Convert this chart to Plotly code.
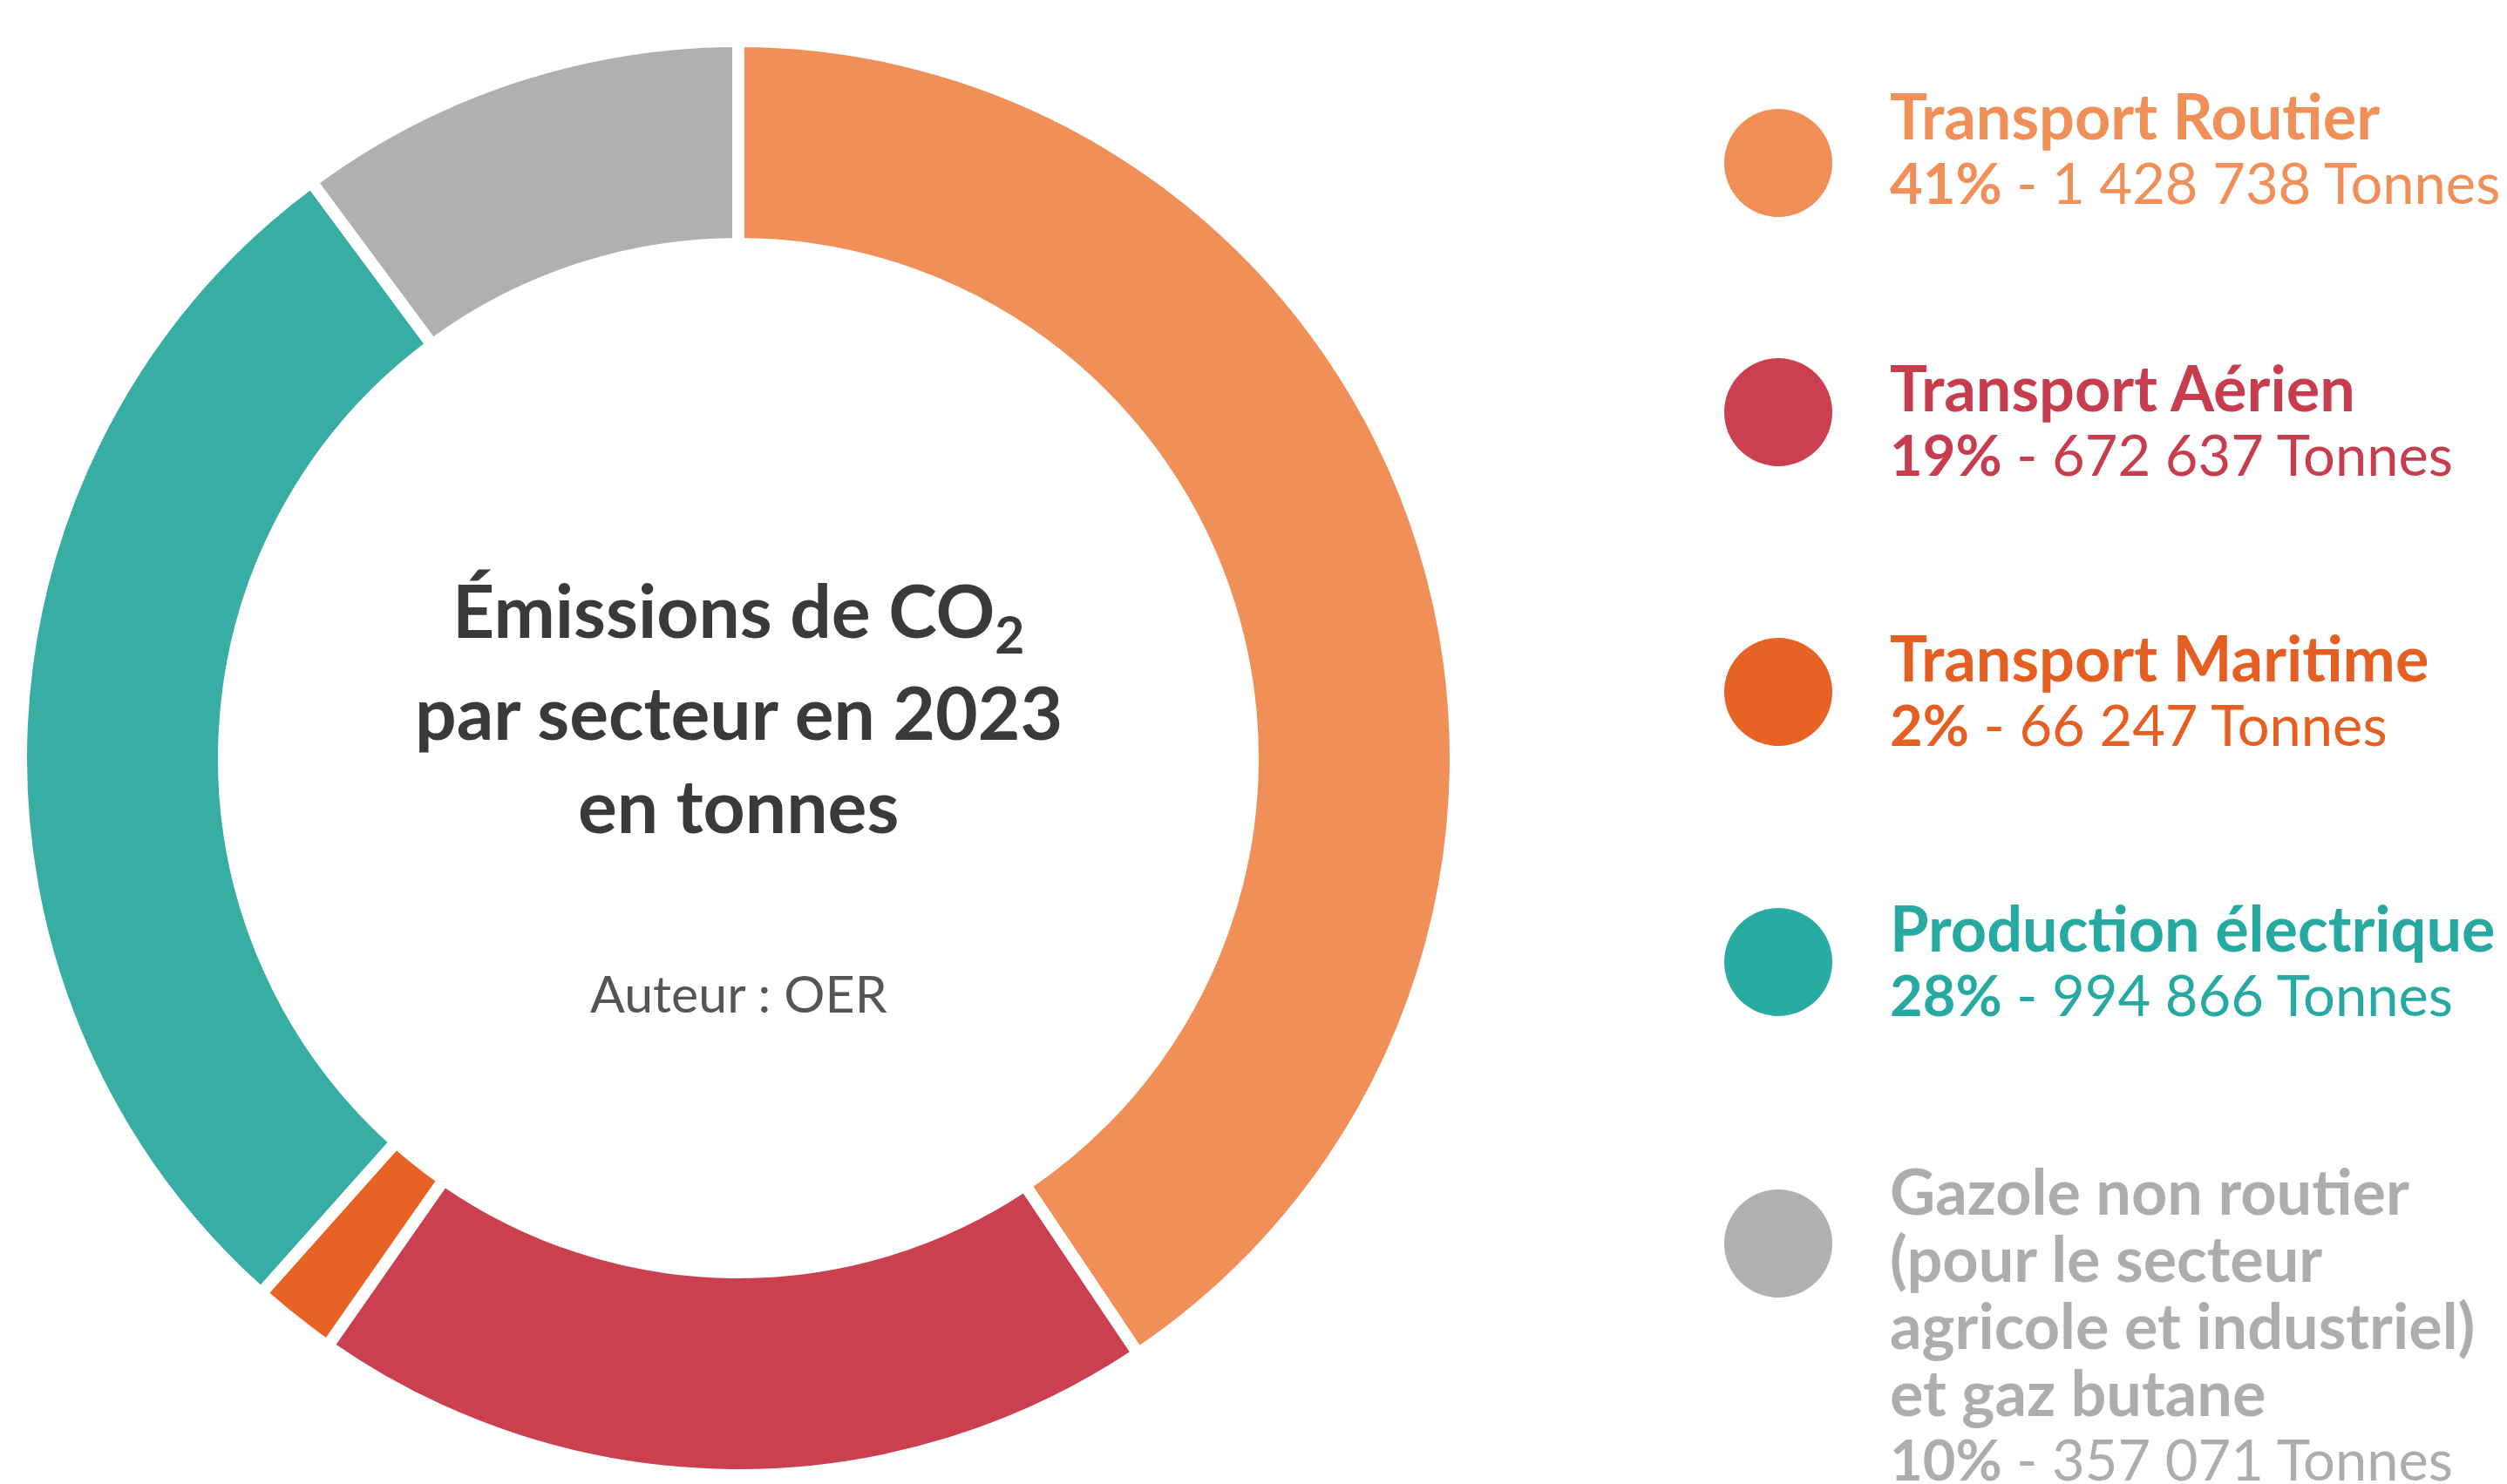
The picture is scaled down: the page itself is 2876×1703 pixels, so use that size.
import plotly.graph_objects as go

# ---- data ----
sectors = ["Transport Routier", "Transport Aérien", "Transport Maritime",
           "Production électrique",
           "Gazole non routier (pour le secteur agricole et industriel) et gaz butane"]
legend_lines = [["Transport Routier"], ["Transport Aérien"], ["Transport Maritime"],
                ["Production électrique"],
                ["Gazole non routier", "(pour le secteur", "agricole et industriel)", "et gaz butane"]]
tonnes = [1428738, 672637, 66247, 994866, 357071]
slice_colors = ["#F08F57", "#CB4050", "#E86225", "#37ADA4", "#B0B0B0"]
text_colors = ["#F08F57", "#C83D4E", "#E65F22", "#25A9A0", "#ADADAD"]

W, H = 2876, 1703
FONT = "Lato, Roboto, sans-serif"

total = sum(tonnes)
pcts = [round(v / total * 100) for v in tonnes]

# donut geometry (pixels)
cx, cy = 847, 870
LW = 14
R = 816 + LW / 2
cyb = H - cy

fig = go.Figure()
fig.add_trace(go.Pie(
    labels=sectors, values=tonnes, sort=False, direction="clockwise", rotation=0,
    hole=(597 - LW / 2) / R, textinfo="none",
    marker=dict(colors=slice_colors, line=dict(color="white", width=LW)),
    domain=dict(x=[(cx - R) / W, (cx + R) / W], y=[(cyb - R) / H, (cyb + R) / H]),
))

ann = []
# center title
title_lines = ["Émissions de CO<sub>2</sub>", "par secteur en 2023", "en tonnes"]
title_y = [706, 816, 924]
for t, y in zip(title_lines, title_y):
    ann.append(dict(x=cx / W, y=1 - y / H, xref="paper", yref="paper", text=f"<b>{t}</b>",
                    showarrow=False, xanchor="center", yanchor="middle",
                    font=dict(family=FONT, size=84, color="#3A3A3A")))
ann.append(dict(x=cx / W, y=1 - 1139 / H, xref="paper", yref="paper", text="Auteur : OER",
                showarrow=False, xanchor="center", yanchor="middle",
                font=dict(family=FONT, size=59, color="#555555")))

# legend
dot_y = [187, 473, 794, 1104, 1427]
first_line_y = [132, 444, 754, 1064, 1366]
line_gap = 77
dot_x, dot_r = 2040, 62
text_x = 2166
shapes = []
for i in range(len(tonnes)):
    shapes.append(dict(type="circle", xref="paper", yref="paper",
                       x0=(dot_x - dot_r) / W, x1=(dot_x + dot_r) / W,
                       y0=1 - (dot_y[i] + dot_r) / H, y1=1 - (dot_y[i] - dot_r) / H,
                       fillcolor=slice_colors[i] if i != 3 else "#27ABA3",
                       line=dict(width=0)))
    lines = [f"<b>{l}</b>" for l in legend_lines[i]]
    num = f"{tonnes[i]:,}".replace(",", " ")
    lines.append(f"<b>{pcts[i]}%</b> - {num} Tonnes")
    for k, l in enumerate(lines):
        y = first_line_y[i] + k * line_gap
        is_value_line = k == len(lines) - 1
        ann.append(dict(x=text_x / W, y=1 - y / H, xref="paper", yref="paper", text=l,
                        showarrow=False, xanchor="left", yanchor="middle",
                        font=dict(family=FONT, size=65 if is_value_line else 72,
                                  color=text_colors[i])))

fig.update_layout(width=W, height=H, margin=dict(l=0, r=0, t=0, b=0),
                  paper_bgcolor="white", plot_bgcolor="white", showlegend=False,
                  annotations=ann, shapes=shapes)
fig.write_html("out.html", config={"displayModeBar": False},
               post_script="document.body.style.margin='0';document.body.style.overflow='hidden';")
